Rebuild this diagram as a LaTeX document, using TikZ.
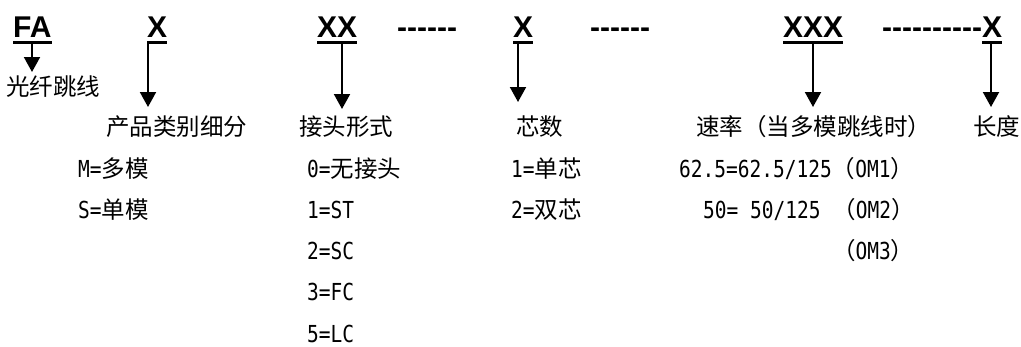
\documentclass[tikz,border=0pt]{standalone}
\usepackage{fontspec}
\usepackage{graphicx}
\newfontfamily\cjk{Noto Sans CJK SC}
\newfontfamily\codefont{Liberation Sans}
\newfontfamily\hwfont{DejaVu Sans Mono}
\usetikzlibrary{arrows.meta}
\newcommand\hw[1]{\scalebox{1}[1.2]{\hwfont\fontsize{19.5}{19.5}\selectfont #1}}
\begin{document}
\begin{tikzpicture}[x=1pt,y=-1pt,
 code/.style={font=\codefont\bfseries\fontsize{30}{30}\selectfont, inner sep=0pt, anchor=base west},
 lbl/.style={font=\cjk\fontsize{23.5}{23.5}\selectfont, inner sep=0pt, anchor=base west},
 uline/.style={line width=3pt},
 arr/.style={line width=2pt, -{Triangle[width=16pt,length=15pt]}}
]
\useasboundingbox (0,0) rectangle (1021,346);
% code letters
\node[code] (fa) at (13,37) {FA};
\node[code] (x1) at (147,37) {X};
\node[code] (xx) at (317,37) {XX};
\node[code] (d1) at (397,37) {------};
\node[code] (x2) at (513,37) {X};
\node[code] (d2) at (590,37) {------};
\node[code] (xxx) at (783,37) {XXX};
\node[code] (d3) at (882,37) {----------};
\node[code] (x3) at (982,37) {X};
% underlines
\foreach \n in {fa,x1,xx,x2,xxx,x3}
  \draw[uline] ([yshift=-5pt]\n.base west) -- ([yshift=-5pt]\n.base east);
% headings
\node[lbl] (h0) at (6,95) {光纤跳线};
\node[lbl] (h1) at (106,135) {产品类别细分};
\node[lbl] (h2) at (299,135) {接头形式};
\node[lbl] (h3) at (516,135) {芯数};
\node[lbl] (h4) at (696,135) {速率（当多模跳线时）};
\node[lbl] (h5) at (973,135) {长度};
% arrows
\coordinate (a0) at (32,42);  \coordinate (t0) at (32,72);
\coordinate (a1) at (148,42); \coordinate (t1) at (148,107);
\coordinate (a2) at (342,42); \coordinate (t2) at (342,109);
\coordinate (a3) at (518,42); \coordinate (t3) at (518,102);
\coordinate (a4) at (813,42); \coordinate (t4) at (813,107);
\coordinate (a5) at (991,42); \coordinate (t5) at (991,107);
\foreach \i in {0,...,5} \draw[arr] (a\i) -- (t\i);
% values
\node[lbl] (m) at (78,177) {\hw{M=}多模};
\node[lbl] (s) at (78,218) {\hw{S=}单模};
\node[lbl] (c0) at (307,177) {\hw{0=}无接头};
\node[lbl] (c1) at (307,218) {\hw{1=ST}};
\node[lbl] (c2) at (307,259) {\hw{2=SC}};
\node[lbl] (c3) at (307,300) {\hw{3=FC}};
\node[lbl] (c5) at (307,342) {\hw{5=LC}};
\node[lbl] (n1) at (511,177) {\hw{1=}单芯};
\node[lbl] (n2) at (511,218) {\hw{2=}双芯};
\node[lbl] (r1) at (679,177) {\hw{62.5=62.5/125}（\hw{OM1}）};
\node[lbl] (r2) at (703,218) {\hw{50= 50/125 }（\hw{OM2}）};
\node[lbl] (r3) at (832,259) {（\hw{OM3}）};
\end{tikzpicture}
\end{document}
